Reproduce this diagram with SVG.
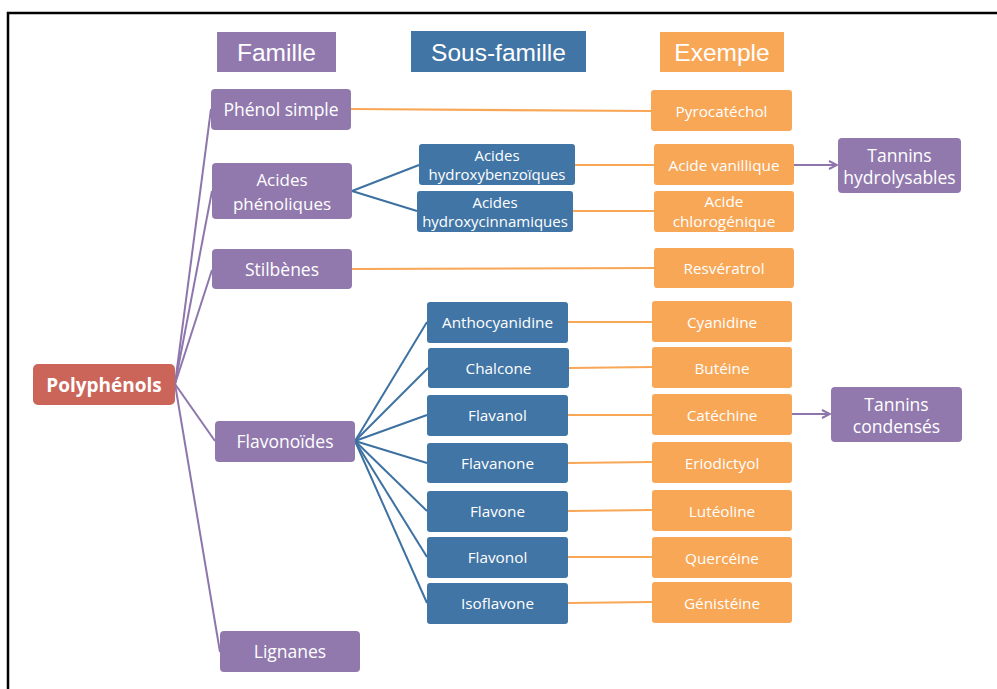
<svg xmlns="http://www.w3.org/2000/svg" width="997" height="689" viewBox="0 0 997 689">
<defs>
<style>
.fam{fill:#9179AE}
.sub{fill:#4175A5}
.ex{fill:#F8A757}
.root{fill:#CB655A}
.t{font-family:"Open Sans","Liberation Sans",sans-serif;fill:#fff;text-anchor:middle}
.f17{font-size:17.5px}
.f17s{font-size:17px}
.f15{font-size:15.3px}
.f15b{font-size:15px}
.hd{font-family:"Liberation Sans",Arial,sans-serif;font-size:24.5px;fill:#fff;text-anchor:middle}
.lp{stroke:#8E76AC;stroke-width:2;fill:none}
.lb{stroke:#3D71A1;stroke-width:2;fill:none}
.lo{stroke:#F8A757;stroke-width:2.2;fill:none}
</style>
<marker id="arr" viewBox="0 0 10 10" refX="9" refY="5" markerWidth="10" markerHeight="10" markerUnits="userSpaceOnUse" orient="auto">
<path d="M1,1 L9,5 L1,9" fill="none" stroke="#8E76AC" stroke-width="2"/>
</marker>
</defs>
<rect width="997" height="689" fill="#fff"/>
<path d="M8,700 L8,13 L1000,13" fill="none" stroke="#000" stroke-width="2.5"/>

<g id="headers">
<g id="h-famille"><rect x="217" y="32" width="119" height="40" class="fam"/><text x="276.5" y="61" class="hd">Famille</text></g>
<g id="h-sousfamille"><rect x="411" y="31" width="175" height="41" class="sub"/><text x="498.5" y="61" class="hd">Sous-famille</text></g>
<g id="h-exemple"><rect x="660" y="32" width="124" height="40" class="ex"/><text x="722" y="61" class="hd">Exemple</text></g>
</g>

<g id="connectors">
<line x1="175" y1="384" x2="211" y2="109" class="lp"/>
<line x1="175" y1="384" x2="212" y2="191" class="lp"/>
<line x1="175" y1="384" x2="212" y2="270" class="lp"/>
<line x1="175" y1="384" x2="215" y2="441" class="lp"/>
<line x1="175" y1="384" x2="220" y2="652" class="lp"/>
<line x1="352" y1="191" x2="419" y2="165" class="lb"/>
<line x1="352" y1="191" x2="417" y2="211" class="lb"/>
<line x1="355" y1="441" x2="427" y2="322" class="lb"/>
<line x1="355" y1="441" x2="428" y2="368" class="lb"/>
<line x1="355" y1="441" x2="427" y2="415" class="lb"/>
<line x1="355" y1="441" x2="427" y2="463" class="lb"/>
<line x1="355" y1="441" x2="427" y2="511" class="lb"/>
<line x1="355" y1="441" x2="427" y2="557" class="lb"/>
<line x1="355" y1="441" x2="427" y2="603" class="lb"/>
<line x1="351" y1="109" x2="651" y2="111" class="lo"/>
<line x1="575" y1="165" x2="654" y2="165" class="lo"/>
<line x1="573" y1="211" x2="654" y2="211" class="lo"/>
<line x1="352" y1="269" x2="654" y2="268" class="lo"/>
<line x1="568" y1="322" x2="652" y2="322" class="lo"/>
<line x1="569" y1="368" x2="652" y2="367" class="lo"/>
<line x1="568" y1="415" x2="652" y2="415" class="lo"/>
<line x1="568" y1="463" x2="652" y2="462" class="lo"/>
<line x1="568" y1="511" x2="652" y2="510" class="lo"/>
<line x1="568" y1="557" x2="652" y2="557" class="lo"/>
<line x1="568" y1="603" x2="652" y2="602" class="lo"/>
<line x1="794" y1="165" x2="837" y2="165" class="lp" marker-end="url(#arr)"/>
<line x1="792" y1="414" x2="830" y2="414" class="lp" marker-end="url(#arr)"/>
</g>

<g id="polyphenols"><rect x="33" y="364" width="142" height="41" rx="5" class="root"/><text x="104" y="392" class="t" style="font-size:19px;font-weight:bold">Polyphénols</text></g>

<g id="phenol-simple"><rect x="211" y="89" width="140" height="41" rx="4" class="fam"/><text x="281" y="116" class="t f17">Phénol simple</text></g>
<g id="acides-phenoliques"><rect x="212" y="163" width="140" height="56" rx="4" class="fam"/><text x="282" y="186" class="t f17s">Acides</text><text x="282" y="210" class="t f17s">phénoliques</text></g>
<g id="stilbenes"><rect x="212" y="249" width="140" height="40" rx="4" class="fam"/><text x="282" y="276" class="t f17">Stilbènes</text></g>
<g id="flavonoides"><rect x="215" y="421" width="140" height="41" rx="4" class="fam"/><text x="285" y="448" class="t f17">Flavonoïdes</text></g>
<g id="lignanes"><rect x="220" y="631" width="140" height="41" rx="4" class="fam"/><text x="290" y="658" class="t f17">Lignanes</text></g>

<g id="hydroxybenzoiques"><rect x="419" y="144" width="156" height="41" rx="3" class="sub"/><text x="497" y="161" class="t f15b">Acides</text><text x="497" y="180" class="t f15b">hydroxybenzoïques</text></g>
<g id="hydroxycinnamiques"><rect x="417" y="191" width="156" height="41" rx="3" class="sub"/><text x="495" y="208" class="t f15b">Acides</text><text x="495" y="227" class="t f15b">hydroxycinnamiques</text></g>
<g id="anthocyanidine"><rect x="427" y="302" width="141" height="41" rx="3" class="sub"/><text x="497.5" y="328" class="t f15">Anthocyanidine</text></g>
<g id="chalcone"><rect x="428" y="348" width="141" height="40" rx="3" class="sub"/><text x="498.5" y="374" class="t f15">Chalcone</text></g>
<g id="flavanol"><rect x="427" y="395" width="141" height="41" rx="3" class="sub"/><text x="497.5" y="421" class="t f15">Flavanol</text></g>
<g id="flavanone"><rect x="427" y="443" width="141" height="40" rx="3" class="sub"/><text x="497.5" y="469" class="t f15">Flavanone</text></g>
<g id="flavone"><rect x="427" y="491" width="141" height="41" rx="3" class="sub"/><text x="497.5" y="517" class="t f15">Flavone</text></g>
<g id="flavonol"><rect x="427" y="537" width="141" height="41" rx="3" class="sub"/><text x="497.5" y="563" class="t f15">Flavonol</text></g>
<g id="isoflavone"><rect x="427" y="583" width="141" height="41" rx="3" class="sub"/><text x="497.5" y="609" class="t f15">Isoflavone</text></g>

<g id="pyrocatechol"><rect x="651" y="90" width="141" height="41" rx="3" class="ex"/><text x="721.5" y="117" class="t f15">Pyrocatéchol</text></g>
<g id="acide-vanillique"><rect x="654" y="144" width="140" height="41" rx="3" class="ex"/><text x="724" y="171" class="t f15">Acide vanillique</text></g>
<g id="acide-chlorogenique"><rect x="654" y="191" width="140" height="41" rx="3" class="ex"/><text x="724" y="207" class="t f15">Acide</text><text x="724" y="227" class="t f15">chlorogénique</text></g>
<g id="resveratrol"><rect x="654" y="248" width="140" height="40" rx="3" class="ex"/><text x="724" y="274" class="t f15">Resvératrol</text></g>
<g id="cyanidine"><rect x="652" y="301" width="140" height="41" rx="3" class="ex"/><text x="722" y="328" class="t f15">Cyanidine</text></g>
<g id="buteine"><rect x="652" y="347" width="140" height="41" rx="3" class="ex"/><text x="722" y="374" class="t f15">Butéine</text></g>
<g id="catechine"><rect x="652" y="394" width="140" height="41" rx="3" class="ex"/><text x="722" y="421" class="t f15">Catéchine</text></g>
<g id="eriodictyol"><rect x="652" y="442" width="140" height="41" rx="3" class="ex"/><text x="722" y="469" class="t f15">Eriodictyol</text></g>
<g id="luteoline"><rect x="652" y="490" width="140" height="41" rx="3" class="ex"/><text x="722" y="517" class="t f15">Lutéoline</text></g>
<g id="querceine"><rect x="652" y="537" width="140" height="41" rx="3" class="ex"/><text x="722" y="564" class="t f15">Quercéine</text></g>
<g id="genisteine"><rect x="652" y="582" width="140" height="41" rx="3" class="ex"/><text x="722" y="609" class="t f15">Génistéine</text></g>

<g id="tannins-hydrolysables"><rect x="838" y="138" width="123" height="55" rx="4" class="fam"/><text x="899.5" y="162" class="t f17">Tannins</text><text x="899.5" y="184" class="t f17">hydrolysables</text></g>
<g id="tannins-condenses"><rect x="831" y="387" width="131" height="55" rx="4" class="fam"/><text x="896.5" y="411" class="t f17">Tannins</text><text x="896.5" y="433" class="t f17">condensés</text></g>
</svg>
